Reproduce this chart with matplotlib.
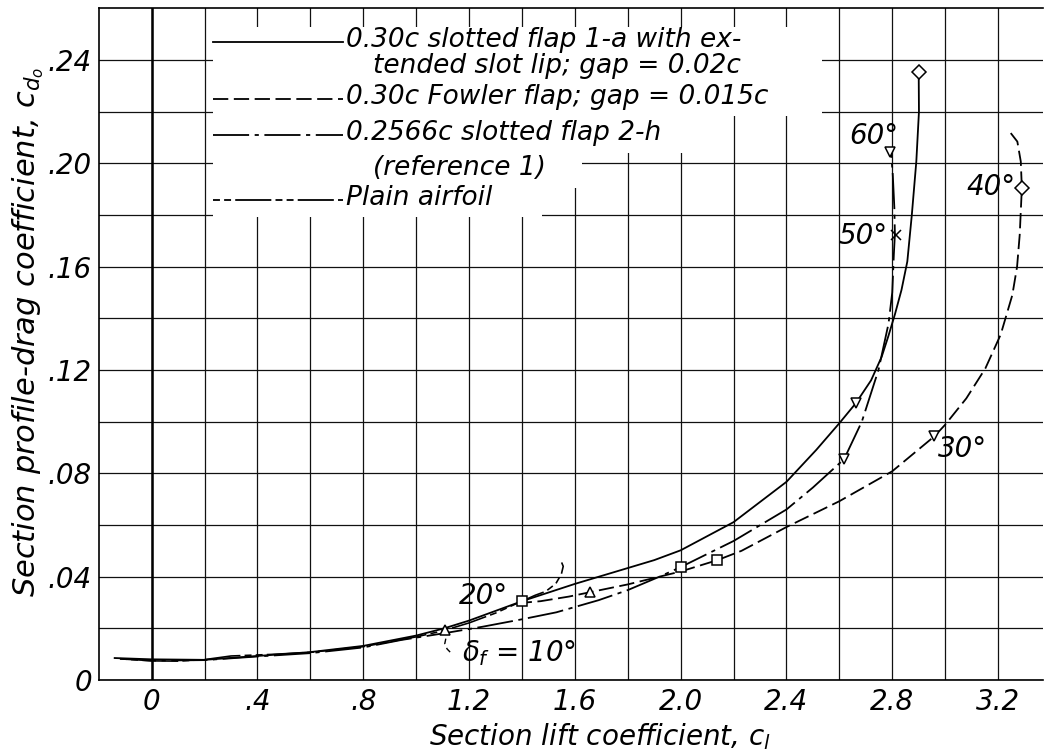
import numpy as np
import matplotlib
matplotlib.use("Agg")
import matplotlib.pyplot as plt
from matplotlib.lines import Line2D
from matplotlib.patches import Rectangle

plt.rcParams['font.family'] = ['DejaVu Sans']
plt.rcParams['font.style'] = 'italic'
plt.rcParams['mathtext.fontset'] = 'dejavusans'
plt.rcParams['lines.scale_dashes'] = False

# ---------------- data ----------------
# 0.30c slotted flap 1-a with extended slot lip (solid)
slot1a_cl = [-0.14, 0.0, 0.2, 0.4, 0.6, 0.8, 1.0, 1.106, 1.2, 1.4, 1.6, 1.75, 1.9,
             2.0, 2.2, 2.4, 2.513, 2.6, 2.662, 2.72, 2.76, 2.785, 2.81, 2.835,
             2.857, 2.874, 2.891, 2.901, 2.900]
slot1a_cd = [0.0085, 0.0080, 0.0078, 0.0093, 0.0108, 0.0132, 0.0172, 0.0200, 0.0230,
             0.0305, 0.0372, 0.0418, 0.0464, 0.0502, 0.0611, 0.0767, 0.0891, 0.0994,
             0.1071, 0.1160, 0.1251, 0.1330, 0.1415, 0.1510, 0.1620, 0.1800, 0.2007,
             0.2200, 0.2350]
slot1a_mk_cl = [1.110, 1.400, 2.662, 2.900]
slot1a_mk_cd = [0.0192, 0.0306, 0.1071, 0.2355]
slot1a_mk = ['^', 's', 'v', 'D']

# 0.30c Fowler flap (long dashes)
fowler_cl = [1.38, 1.47, 1.578, 1.658, 1.8, 1.92, 2.0, 2.139, 2.23, 2.4, 2.6, 2.8,
             2.959, 3.0, 3.08, 3.152, 3.21, 3.254, 3.272, 3.282, 3.290, 3.286,
             3.273, 3.248]
fowler_cd = [0.0297, 0.0305, 0.0323, 0.0340, 0.0370, 0.0400, 0.0420, 0.0464, 0.0500,
             0.0592, 0.0692, 0.0808, 0.0943, 0.0988, 0.1090, 0.1206, 0.1337, 0.1490,
             0.1600, 0.1724, 0.1904, 0.2007, 0.2084, 0.2117]
fowler_mk_cl = [1.658, 2.139, 2.959, 3.290]
fowler_mk_cd = [0.0342, 0.0464, 0.0945, 0.1904]
fowler_mk = ['^', 's', 'v', 'D']

# 0.2566c slotted flap 2-h, reference 1 (long dash - short dash)
slot2h_cl = [-0.12, 0.0, 0.2, 0.4, 0.6, 0.8, 0.944, 1.106, 1.25, 1.4, 1.53, 1.69,
             1.8, 1.92, 2.0, 2.2, 2.4, 2.5, 2.618, 2.685, 2.748, 2.786, 2.80,
             2.806, 2.81, 2.808, 2.802, 2.796]
slot2h_cd = [0.0082, 0.0075, 0.0077, 0.0091, 0.0104, 0.0126, 0.0155, 0.0181, 0.0206,
             0.0235, 0.0262, 0.0309, 0.0348, 0.0400, 0.0437, 0.0538, 0.0660, 0.0745,
             0.0855, 0.1000, 0.1200, 0.1380, 0.1500, 0.1647, 0.1724, 0.1827,
             0.1956, 0.2035]
slot2h_mk_cl = [2.000, 2.618, 2.813, 2.790]
slot2h_mk_cd = [0.0437, 0.0857, 0.1724, 0.2045]
slot2h_mk = ['s', 'v', 'x', 'v']

# Plain airfoil (short dashes - long dash)
plain_cl = [-0.12, 0.0, 0.1, 0.2, 0.3, 0.45, 0.6, 0.8, 1.0, 1.1, 1.2, 1.3, 1.38,
            1.45, 1.49, 1.528, 1.549, 1.556, 1.550]
plain_cd = [0.0082, 0.0074, 0.0073, 0.0079, 0.0093, 0.0099, 0.0107, 0.0129, 0.0167,
            0.0190, 0.0221, 0.0259, 0.0296, 0.0328, 0.0343, 0.0373, 0.0410, 0.0440,
            0.0455]

# leader curl under the 10 deg marker
leader_cl = [1.112, 1.108, 1.117, 1.137]
leader_cd = [0.0160, 0.0140, 0.0120, 0.0099]

x_major = [0, 0.4, 0.8, 1.2, 1.6, 2.0, 2.4, 2.8, 3.2]
x_labels = ['0', '.4', '.8', '1.2', '1.6', '2.0', '2.4', '2.8', '3.2']
x_minor = [0.2, 0.6, 1.0, 1.4, 1.8, 2.2, 2.6, 3.0]
y_major = [0, 0.04, 0.08, 0.12, 0.16, 0.20, 0.24]
y_labels = ['0', '.04', '.08', '.12', '.16', '.20', '.24']
y_minor = [0.02, 0.06, 0.10, 0.14, 0.18, 0.22]

legend_rows = [
    ("0.30c slotted flap 1-a with ex-", "tended slot lip; gap = 0.02c"),
    ("0.30c Fowler flap; gap = 0.015c", None),
    ("0.2566c slotted flap 2-h", "(reference 1)"),
    ("Plain airfoil", None),
]

# ---------------- styles ----------------
FOWLER_LS = (0, (11, 4))
SLOT2H_LS = (0, (26, 4, 3, 4))
PLAIN_LS = (0, (5, 3, 5, 3, 26, 3))
LW = 1.3
FS = 20
LEG_FS = 19

W, H = 1044, 753
fig = plt.figure(figsize=(W / 100, H / 100), dpi=100)
ax_l, ax_r, ax_t, ax_b = 98.8, 1043.0, 8.3, 680.0
ax = fig.add_axes([ax_l / W, 1 - ax_b / H, (ax_r - ax_l) / W, (ax_b - ax_t) / H])
ax.set_xlim(-0.2, 3.37)
ax.set_ylim(0, 0.26)

ax.set_xticks(x_major)
ax.set_xticklabels(x_labels)
ax.set_xticks(x_minor, minor=True)
ax.set_yticks(y_major)
ax.set_yticklabels(y_labels)
ax.set_yticks(y_minor, minor=True)
ax.tick_params(which='both', length=0)
ax.tick_params(axis='x', pad=6, labelsize=FS)
ax.tick_params(axis='y', pad=5, labelsize=FS)
for t in ax.get_xticklabels() + ax.get_yticklabels():
    t.set_fontstyle('italic')
ax.set_axisbelow(True)
ax.grid(which='both', color='#111111', lw=0.9)
ax.axvline(0, color='black', lw=1.8, zorder=0.6)
ax.spines['right'].set_visible(False)
for s in ['left', 'top', 'bottom']:
    ax.spines[s].set_linewidth(1.2)

# curves
ax.plot(slot1a_cl, slot1a_cd, color='black', lw=LW, ls='-')
ax.plot(fowler_cl, fowler_cd, color='black', lw=LW, ls=FOWLER_LS)
ax.plot(slot2h_cl, slot2h_cd, color='black', lw=LW, ls=SLOT2H_LS)
ax.plot(plain_cl, plain_cd, color='black', lw=LW * 0.9, ls=PLAIN_LS)
ax.plot(leader_cl, leader_cd, color='black', lw=1.0, ls=(0, (4, 3)))

for xs, ys, ms in [(slot1a_mk_cl, slot1a_mk_cd, slot1a_mk),
                   (fowler_mk_cl, fowler_mk_cd, fowler_mk),
                   (slot2h_mk_cl, slot2h_mk_cd, slot2h_mk)]:
    for xv, yv, m in zip(xs, ys, ms):
        ax.plot([xv], [yv], marker=m, ms=7.5, mfc='white', mec='black',
                mew=1.1, ls='none', zorder=4)

# angle annotations
ann = dict(fontsize=FS, fontstyle='italic', va='center', zorder=5)
ax.text(2.822, 0.2104, '60°', ha='right', **ann)
ax.text(2.782, 0.1717, '50°', ha='right', **ann)
ax.text(3.268, 0.1910, '40°', ha='right', **ann)
ax.text(2.972, 0.0895, '30°', ha='left', **ann)
ax.text(1.160, 0.0326, '20°', ha='left', **ann)
ax.text(1.172, 0.0105, r'$\delta_f$ = 10°', ha='left', **ann)

# axis labels
fig.text(600 / W, 1 - 737 / H, 'Section lift coefficient, $c_l$', ha='center',
         va='center', fontsize=FS, fontstyle='italic')
fig.text(28 / W, 1 - 332 / H, 'Section profile-drag coefficient, $c_{d_o}$',
         ha='center', va='center', rotation=90, fontsize=FS + 2, fontstyle='italic')

# legend block: white masks over the grid
def axfrac(px, py):
    return (px - ax_l) / (ax_r - ax_l), (ax_b - py) / (ax_b - ax_t)

for (x0, y0, x1, y1) in [(213, 27, 822, 116), (213, 115, 718, 153),
                         (213, 152, 582, 188), (213, 186, 542, 217)]:
    fx0, fy1 = axfrac(x0, y0)
    fx1, fy0 = axfrac(x1, y1)
    ax.add_patch(Rectangle((fx0, fy0), fx1 - fx0, fy1 - fy0, transform=ax.transAxes,
                           facecolor='white', edgecolor='none', zorder=1))

row_y = [(40.0, 66.0), (97.0, None), (133.0, 168.0), (198.0, None)]
row_ls = ['-', FOWLER_LS, SLOT2H_LS, PLAIN_LS]
for (t1, t2), (y1, y2), ls in zip(legend_rows, row_y, row_ls):
    fig.add_artist(Line2D([213 / W, 343 / W], [1 - (y1 + 2) / H, 1 - (y1 + 2) / H],
                          transform=fig.transFigure, color='black', lw=LW, ls=ls))
    fig.text(346 / W, 1 - y1 / H, t1, ha='left', va='center', fontsize=LEG_FS,
             fontstyle='italic')
    if t2:
        fig.text(373 / W, 1 - y2 / H, t2, ha='left', va='center', fontsize=LEG_FS,
                 fontstyle='italic')

fig.savefig('out.png', dpi=100, facecolor='white')
